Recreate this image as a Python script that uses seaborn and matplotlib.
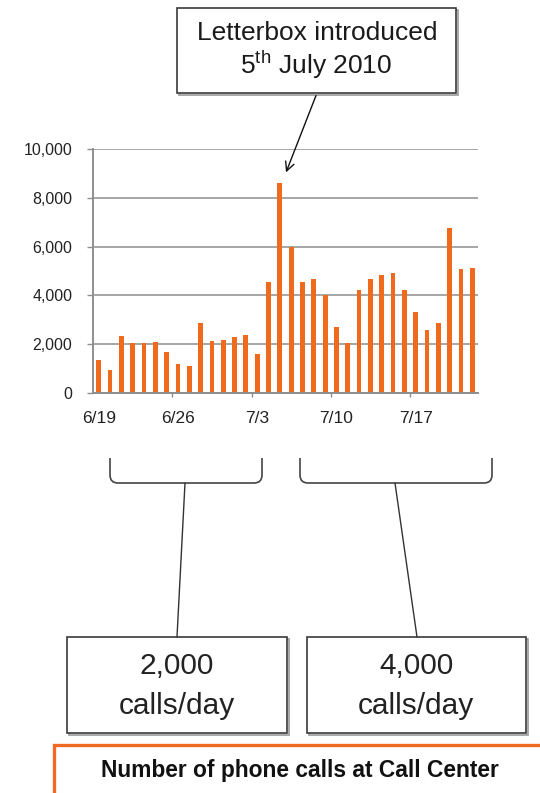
import matplotlib
matplotlib.use("Agg")
import matplotlib.pyplot as plt
from matplotlib.patches import Rectangle, FancyArrowPatch, PathPatch
from matplotlib.path import Path
from matplotlib.lines import Line2D
from matplotlib.transforms import Affine2D
import seaborn as sns
import pandas as pd

# Daily calls received at the call center, 19 June - 22 July 2010
dates = ["6/19", "6/20", "6/21", "6/22", "6/23", "6/24", "6/25", "6/26", "6/27",
         "6/28", "6/29", "6/30", "7/1", "7/2", "7/3", "7/4", "7/5", "7/6", "7/7",
         "7/8", "7/9", "7/10", "7/11", "7/12", "7/13", "7/14", "7/15", "7/16",
         "7/17", "7/18", "7/19", "7/20", "7/21", "7/22"]
calls = [1370, 960, 2330, 2050, 2030, 2080, 1700, 1200, 1100,
         2850, 2120, 2160, 2300, 2370, 1600, 4550, 8600, 6000, 4550,
         4680, 4030, 2710, 2030, 4220, 4680, 4820, 4900, 4220,
         3310, 2600, 2850, 6780, 5070, 5120]
tick_labels = ["6/19", "6/26", "7/3", "7/10", "7/17"]
y_ticks = [0, 2000, 4000, 6000, 8000, 10000]
y_tick_labels = ["0", "2,000", "4,000", "6,000", "8,000", "10,000"]

avg_before = "2,000"
avg_after = "4,000"
avg_unit = "calls/day"

sns.set_style("white")
plt.rcParams["font.family"] = ["Liberation Sans", "DejaVu Sans"]
plt.rcParams["mathtext.fontset"] = "custom"
plt.rcParams["mathtext.rm"] = "Liberation Sans"

W, H = 540, 793
fig = plt.figure(figsize=(W / 100, H / 100), dpi=100)
fig.patch.set_facecolor("white")

# pixel coordinates with origin at the top-left corner
T = Affine2D().scale(1 / W, -1 / H).translate(0, 1) + fig.transFigure

ax = fig.add_axes([93 / W, 1 - 393 / H, (478 - 93) / W, (393 - 149) / H])
ax.set_axisbelow(True)
df = pd.DataFrame({"date": dates, "calls": calls})
sns.barplot(data=df, x="date", y="calls", color="#F06A1E", saturation=1,
            width=0.42, linewidth=0, ax=ax, zorder=3)

ax.set_xlim(-0.5, len(dates) - 0.5)
ax.set_ylim(0, 10000)
ax.set_xlabel("")
ax.set_ylabel("")

grid_col = "#8e8e8e"
ax.set_yticks(y_ticks, y_tick_labels)
ax.yaxis.grid(True, color=grid_col, lw=1.1)
ax.tick_params(axis="y", length=4.5, width=1, color=grid_col, pad=10.5,
               labelsize=11.5, labelcolor="#222222", left=True)

label_pos = [dates.index(d) for d in tick_labels]
ax.set_xticks(label_pos, tick_labels)
ax.tick_params(axis="x", which="major", length=0, pad=13, labelsize=12.5,
               labelcolor="#222222")
ax.set_xticks([p - 0.5 for p in label_pos[1:]], minor=True)
ax.tick_params(axis="x", which="minor", length=3, width=1, color=grid_col,
               bottom=True, direction="out")

for side in ["top", "right"]:
    ax.spines[side].set_visible(False)
for side in ["left", "bottom"]:
    ax.spines[side].set_color(grid_col)
    ax.spines[side].set_linewidth(1.4)
    ax.spines[side].set_zorder(4)

line_col = "#333333"


def box(x0, y0, x1, y1, ec="#3a3a3a", lw=1.2, shadow=True):
    if shadow:
        fig.add_artist(Rectangle((x0 + 1.5, y0 + 1.5), x1 - x0, y1 - y0,
                                 transform=T, fc="none", ec="#9a9a9a", lw=lw))
    fig.add_artist(Rectangle((x0, y0), x1 - x0, y1 - y0, transform=T,
                             fc="white", ec=ec, lw=lw))


# annotation for the letterbox launch
box(177, 8, 456, 93)
fig.text(317, 33, "Letterbox introduced", transform=T, ha="center",
         va="center", fontsize=19, color="#1a1a1a")
fig.text(316, 65, r"5$^{\mathrm{th}}$ July 2010", transform=T, ha="center",
         va="center", fontsize=19, color="#1a1a1a")
fig.add_artist(FancyArrowPatch((317, 93), (285, 175), transform=T,
                               arrowstyle="->", mutation_scale=16,
                               color="#111111", lw=1.0))


def bracket(x0, x1, top=458, base=483, r=8, mid=None, end=None):
    verts = [(x0, top), (x0, base - r), (x0, base), (x0 + r, base),
             (x1 - r, base), (x1, base), (x1, base - r), (x1, top)]
    codes = [Path.MOVETO, Path.LINETO, Path.CURVE3, Path.CURVE3,
             Path.LINETO, Path.CURVE3, Path.CURVE3, Path.LINETO]
    fig.add_artist(PathPatch(Path(verts, codes), transform=T, fc="none",
                             ec="#444444", lw=1.2))
    fig.add_artist(Line2D([mid[0], end[0]], [mid[1], end[1]], transform=T,
                          color=line_col, lw=1.0))


bracket(110, 262, mid=(185, 483), end=(177, 637))
bracket(300, 492, mid=(395, 483), end=(417, 637))

box(67, 637, 287, 733)
box(307, 637, 526, 733)
for cx, val in [(177, avg_before), (416, avg_after)]:
    fig.text(cx, 666, val, transform=T, ha="center", va="center",
             fontsize=21.5, color="#222222")
    fig.text(cx, 706, avg_unit, transform=T, ha="center", va="center",
             fontsize=21.5, color="#222222")

# caption frame
fig.add_artist(Rectangle((54, 745), 520, 80, transform=T, fc="white",
                         ec="#EE6A22", lw=2.4))
fig.text(300, 771, "Number of phone calls at Call Center", transform=T,
         ha="center", va="center", fontsize=16.4, fontweight="bold",
         color="#111111")

fig.savefig("out.png", dpi=100, facecolor="white")
